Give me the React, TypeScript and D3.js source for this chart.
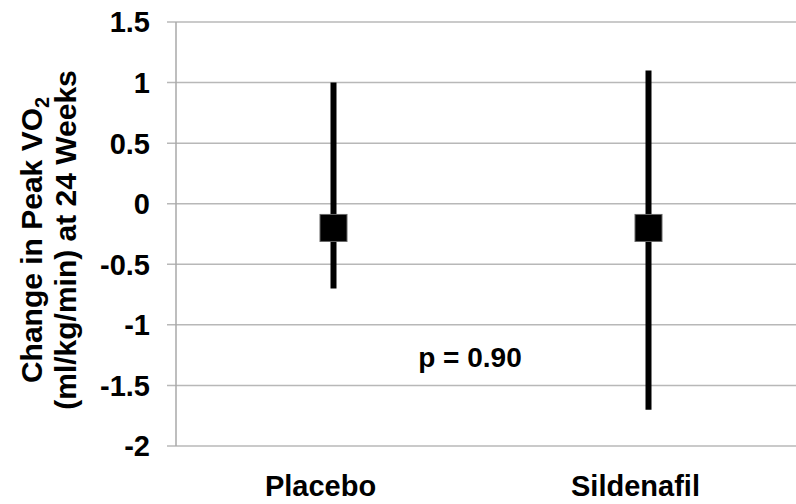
import React from "react";
import * as d3 from "d3";

const groups = ["Placebo", "Sildenafil"];
const means = [-0.2, -0.2];
const lower = [-0.7, -1.7];
const upper = [1.0, 1.1];
const yTicks = [1.5, 1, 0.5, 0, -0.5, -1, -1.5, -2];
const pLabel = "p = 0.90";

const width = 796;
const height = 504;
const font = "'Liberation Sans', Arial, sans-serif";

const App: React.FC = () => {
  const x = d3.scaleBand<string>().domain(groups).range([176, 806]);
  const y = d3.scaleLinear().domain([-2, 1.5]).range([446, 22]);
  const axisX = 176;
  const sq = 27;

  return (
    <svg
      width={width}
      height={height}
      style={{ position: "absolute", left: 0, top: 0, background: "#fff" }}
      fontFamily={font}
      fontWeight="bold"
    >
      {/* grid lines and tick marks */}
      {yTicks.map((t) => (
        <g key={t}>
          <line
            x1={axisX - 9}
            x2={width}
            y1={y(t)}
            y2={y(t)}
            stroke="#b8b8b8"
            strokeWidth={1.5}
          />
          <text
            x={150}
            y={y(t)}
            dy="0.36em"
            textAnchor="end"
            fontSize={29}
            fill="#000"
          >
            {t}
          </text>
        </g>
      ))}
      <line
        x1={axisX}
        x2={axisX}
        y1={y(1.5)}
        y2={y(-2)}
        stroke="#a8a8a8"
        strokeWidth={1.5}
      />

      {/* error bars */}
      {groups.map((g, i) => {
        const cx = (x(g) as number) + x.bandwidth() / 2;
        return (
          <g key={g}>
            <line
              x1={cx}
              x2={cx}
              y1={y(upper[i])}
              y2={y(lower[i])}
              stroke="#000"
              strokeWidth={6}
            />
            <rect
              x={cx - sq / 2}
              y={y(means[i]) - sq / 2}
              width={sq}
              height={sq}
              fill="#000"
              stroke="#666"
              strokeWidth={1}
            />
            <text
              x={cx - 13}
              y={496}
              textAnchor="middle"
              fontSize={29}
              fill="#000"
            >
              {g}
            </text>
          </g>
        );
      })}

      <text x={470} y={367} textAnchor="middle" fontSize={28} fill="#000">
        {pLabel}
      </text>

      {/* y axis title */}
      <g transform="translate(0,240) rotate(-90)" fontSize={30} fill="#000">
        <text x={0} y={42} textAnchor="middle">
          Change in Peak VO
          <tspan fontSize={20} dy={7}>
            2
          </tspan>
        </text>
        <text x={0} y={76} textAnchor="middle">
          (ml/kg/min) at 24 Weeks
        </text>
      </g>
    </svg>
  );
};

export default App;
